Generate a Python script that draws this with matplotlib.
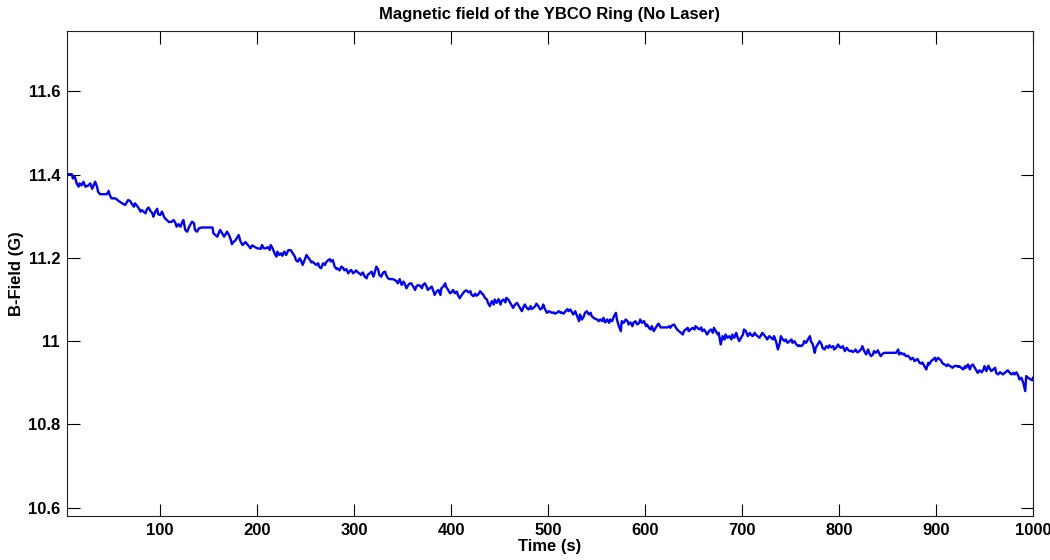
import numpy as np
import matplotlib
matplotlib.use("Agg")
import matplotlib.pyplot as plt
from matplotlib.ticker import FormatStrFormatter, MultipleLocator

# readings taken off the trace, one block per stretch of the run
t_seg1 = [4, 9, 10, 12, 14, 16, 17, 19, 21, 23,
          26, 28, 30, 33, 35, 36, 38, 45, 47, 48,
          50, 54, 57, 61, 64, 66, 67, 69, 71, 73,
          74, 76, 78, 80, 81, 83, 85, 86, 88, 90,
          92, 93, 95, 97, 98, 100, 102, 104, 105, 107,
          109, 112, 114, 116, 117, 119, 121, 123, 124, 126,
          128, 130, 131, 133, 135, 136, 138, 140, 143, 154,
          155, 157, 159, 161, 162, 164, 166, 167, 169, 171,
          173, 174, 176, 178, 180, 181, 183, 185, 188, 192,
          193, 195, 200, 204, 205, 207]
b_seg1 = [11.401, 11.401, 11.391, 11.395, 11.379, 11.371, 11.379, 11.374, 11.383, 11.371,
          11.374, 11.379, 11.366, 11.383, 11.371, 11.359, 11.353, 11.353, 11.361, 11.351,
          11.343, 11.343, 11.337, 11.331, 11.327, 11.335, 11.339, 11.337, 11.329, 11.323,
          11.331, 11.326, 11.319, 11.311, 11.315, 11.311, 11.307, 11.315, 11.321, 11.313,
          11.307, 11.299, 11.311, 11.318, 11.305, 11.303, 11.311, 11.299, 11.295, 11.291,
          11.286, 11.287, 11.291, 11.283, 11.275, 11.281, 11.275, 11.287, 11.291, 11.267,
          11.263, 11.275, 11.279, 11.287, 11.283, 11.267, 11.263, 11.271, 11.273, 11.273,
          11.259, 11.255, 11.251, 11.263, 11.267, 11.259, 11.251, 11.255, 11.263, 11.255,
          11.243, 11.233, 11.239, 11.243, 11.251, 11.255, 11.239, 11.231, 11.238, 11.227,
          11.223, 11.230, 11.223, 11.222, 11.231, 11.223]

t_seg2 = [209, 211, 213, 214, 216, 218, 220, 221, 223, 225,
          226, 228, 230, 232, 233, 235, 237, 239, 240, 242,
          244, 245, 247, 249, 251, 252, 254, 256, 257, 259,
          261, 263, 264, 266, 268, 270, 271, 273, 275, 276,
          278, 280, 282, 283, 285, 287, 289, 290, 292, 294,
          295, 297, 299, 301, 302, 304, 306, 307, 309, 311,
          313, 314, 316, 318, 320, 321, 323, 325, 326, 328,
          330, 332, 333, 335, 337, 340, 342, 344, 345, 347,
          349, 351, 352, 354, 356, 357, 359, 361, 363, 364,
          366, 368, 370, 371, 373, 375, 376, 378, 380, 382,
          383, 385, 387, 389, 390, 392, 394, 395, 397, 399,
          401, 402, 404, 406, 407, 409, 411]
b_seg2 = [11.223, 11.226, 11.219, 11.231, 11.223, 11.211, 11.203, 11.215, 11.207, 11.211,
          11.205, 11.215, 11.207, 11.218, 11.219, 11.218, 11.210, 11.203, 11.195, 11.191,
          11.199, 11.195, 11.183, 11.195, 11.207, 11.203, 11.197, 11.189, 11.191, 11.187,
          11.183, 11.187, 11.179, 11.175, 11.187, 11.183, 11.189, 11.194, 11.197, 11.191,
          11.195, 11.179, 11.173, 11.175, 11.170, 11.179, 11.175, 11.170, 11.173, 11.163,
          11.167, 11.171, 11.163, 11.167, 11.170, 11.165, 11.162, 11.159, 11.165, 11.155,
          11.151, 11.159, 11.163, 11.167, 11.155, 11.163, 11.179, 11.171, 11.159, 11.155,
          11.165, 11.167, 11.159, 11.151, 11.149, 11.149, 11.147, 11.143, 11.139, 11.149,
          11.135, 11.143, 11.139, 11.127, 11.135, 11.138, 11.139, 11.131, 11.123, 11.131,
          11.135, 11.133, 11.127, 11.135, 11.139, 11.130, 11.123, 11.127, 11.131, 11.119,
          11.111, 11.119, 11.123, 11.111, 11.127, 11.131, 11.139, 11.130, 11.123, 11.115,
          11.119, 11.123, 11.115, 11.119, 11.111, 11.103, 11.111]

t_seg3 = [414, 416, 418, 420, 421, 423, 425, 426, 428, 430,
          432, 433, 435, 437, 438, 440, 442, 444, 445, 447,
          449, 451, 452, 454, 456, 457, 459, 461, 463, 464,
          466, 468, 470, 471, 473, 475, 476, 478, 480, 482,
          483, 485, 487, 488, 490, 492, 494, 495, 497, 499,
          501, 504, 506, 507, 509, 511, 513, 514, 516, 518,
          520, 521, 523, 525, 526, 528, 530, 532, 533, 535,
          537, 538, 540, 542, 544, 545, 547, 549, 551, 552,
          554, 556, 557, 559, 561, 563, 564, 566, 568, 570,
          571, 573, 575, 576, 578, 580, 582, 583, 585, 587,
          588, 590, 592, 594, 595, 597, 599, 601, 602, 604,
          606, 607, 609, 611, 613, 614]
b_seg3 = [11.120, 11.122, 11.117, 11.120, 11.112, 11.108, 11.114, 11.109, 11.112, 11.120,
          11.114, 11.112, 11.104, 11.100, 11.092, 11.084, 11.096, 11.088, 11.100, 11.092,
          11.101, 11.088, 11.096, 11.100, 11.093, 11.104, 11.100, 11.092, 11.084, 11.080,
          11.088, 11.092, 11.084, 11.080, 11.072, 11.084, 11.088, 11.080, 11.076, 11.084,
          11.077, 11.080, 11.085, 11.090, 11.084, 11.076, 11.080, 11.088, 11.076, 11.068,
          11.072, 11.068, 11.069, 11.066, 11.068, 11.072, 11.068, 11.069, 11.066, 11.072,
          11.077, 11.072, 11.076, 11.068, 11.064, 11.072, 11.060, 11.048, 11.064, 11.052,
          11.060, 11.068, 11.072, 11.064, 11.068, 11.060, 11.056, 11.053, 11.052, 11.048,
          11.052, 11.048, 11.056, 11.045, 11.052, 11.044, 11.052, 11.048, 11.060, 11.068,
          11.052, 11.036, 11.024, 11.048, 11.044, 11.052, 11.048, 11.040, 11.045, 11.036,
          11.044, 11.048, 11.040, 11.044, 11.052, 11.044, 11.048, 11.036, 11.040, 11.032,
          11.028, 11.036, 11.024, 11.032, 11.040, 11.042]

t_seg4 = [616, 620, 623, 625, 626, 628, 630, 632, 633, 635,
          637, 639, 640, 642, 644, 645, 647, 649, 651, 652,
          654, 656, 658, 659, 661, 663, 664, 666, 668, 670,
          671, 673, 675, 676, 678, 680, 682, 683, 685, 687,
          689, 690, 692, 694, 695, 697, 699, 701, 702, 704,
          706, 708, 709, 711, 713, 714, 716, 718, 720, 721,
          723, 725, 726, 728, 730, 732, 733, 735, 737, 739,
          740, 742, 744, 745, 747, 749, 751, 752, 754, 756,
          758, 759, 761, 763, 764, 766, 768, 770, 771, 773,
          775, 776, 778, 780, 782, 783, 785, 787, 789, 790,
          792, 794, 795, 797, 799, 801, 802, 804, 806, 808,
          809, 811, 813, 814, 816]
b_seg4 = [11.033, 11.033, 11.033, 11.036, 11.032, 11.038, 11.040, 11.032, 11.028, 11.024,
          11.020, 11.016, 11.024, 11.028, 11.032, 11.024, 11.028, 11.032, 11.028, 11.036,
          11.032, 11.028, 11.033, 11.024, 11.028, 11.020, 11.016, 11.024, 11.028, 11.020,
          11.032, 11.024, 11.016, 11.020, 10.992, 11.012, 11.004, 11.016, 11.008, 11.012,
          11.004, 11.016, 11.008, 11.020, 11.012, 11.000, 11.008, 11.016, 11.028, 11.024,
          11.012, 11.020, 11.016, 11.012, 11.020, 11.016, 11.012, 11.008, 11.016, 11.020,
          11.014, 11.008, 11.004, 11.012, 11.008, 11.004, 11.012, 11.000, 10.980, 10.996,
          11.012, 11.004, 11.000, 11.004, 10.996, 11.000, 11.004, 10.996, 11.000, 10.992,
          10.988, 10.990, 10.988, 10.992, 11.000, 10.996, 11.004, 11.012, 11.000, 10.992,
          10.972, 10.984, 10.992, 11.000, 10.992, 10.984, 10.980, 10.988, 10.984, 10.990,
          10.985, 10.988, 10.980, 10.984, 10.992, 10.985, 10.984, 10.988, 10.976, 10.984,
          10.980, 10.976, 10.977, 10.974, 10.976]

t_seg5 = [817, 819, 821, 823, 824, 826, 828, 830, 831, 833,
          835, 836, 838, 840, 842, 843, 845, 847, 859, 861,
          862, 864, 866, 867, 869, 871, 873, 874, 876, 878,
          880, 881, 883, 885, 886, 888, 890, 892, 893, 895,
          897, 899, 900, 902, 904, 905, 907, 909, 911, 912,
          914, 916, 917, 919, 921, 923, 924, 926, 928, 930,
          931, 933, 935, 936, 938, 940, 942, 943, 945, 947,
          949, 950, 952, 954, 955, 957, 959, 961, 962, 964,
          966, 967, 969, 971, 973, 974, 976, 978, 980, 981,
          983, 985, 986, 988, 990, 992, 993, 995, 997, 999,
          1000]
b_seg5 = [10.980, 10.973, 10.976, 10.981, 10.988, 10.976, 10.968, 10.980, 10.972, 10.964,
          10.968, 10.976, 10.972, 10.978, 10.968, 10.964, 10.970, 10.972, 10.972, 10.980,
          10.968, 10.972, 10.968, 10.970, 10.964, 10.965, 10.960, 10.956, 10.960, 10.952,
          10.956, 10.957, 10.948, 10.946, 10.949, 10.940, 10.932, 10.948, 10.944, 10.952,
          10.956, 10.960, 10.952, 10.960, 10.956, 10.954, 10.946, 10.944, 10.940, 10.944,
          10.941, 10.938, 10.936, 10.940, 10.941, 10.938, 10.940, 10.936, 10.932, 10.940,
          10.936, 10.944, 10.932, 10.940, 10.944, 10.936, 10.928, 10.924, 10.930, 10.925,
          10.932, 10.940, 10.928, 10.941, 10.936, 10.928, 10.932, 10.936, 10.924, 10.920,
          10.925, 10.924, 10.920, 10.924, 10.928, 10.930, 10.924, 10.920, 10.924, 10.920,
          10.925, 10.916, 10.908, 10.912, 10.900, 10.880, 10.916, 10.912, 10.909, 10.906,
          10.912]

time_s = np.concatenate([t_seg1, t_seg2, t_seg3, t_seg4, t_seg5])
field_g = np.concatenate([b_seg1, b_seg2, b_seg3, b_seg4, b_seg5])

plt.rcParams['font.family'] = ['Liberation Sans', 'DejaVu Sans']
plt.rcParams['font.weight'] = 'bold'

fig = plt.figure(figsize=(10.5, 5.6), dpi=100, facecolor='white')
ax = fig.add_axes([0.0638, 0.0786, 0.920, 0.866])

ax.plot(time_s, field_g, color=(0, 0, 1), lw=1.7)

ax.set_xlim(time_s.min(), time_s.max())
ax.set_ylim(10.58, 11.745)
ax.xaxis.set_major_locator(MultipleLocator(100))
ax.yaxis.set_major_locator(MultipleLocator(0.2))
ax.yaxis.set_major_formatter(FormatStrFormatter('%g'))

ax.tick_params(direction='in', length=9, width=0.8, top=True, right=True,
               labelsize=12, pad=5)
for lab in ax.get_xticklabels() + ax.get_yticklabels():
    lab.set_fontweight('bold')
for sp in ax.spines.values():
    sp.set_linewidth(0.8)
    sp.set_color('#222222')

ax.set_title('Magnetic field of the YBCO Ring (No Laser)', fontsize=12,
             fontweight='bold', pad=9)
ax.set_xlabel('Time (s)', fontsize=12, fontweight='bold', labelpad=1)
ax.set_ylabel('B-Field (G)', fontsize=12, fontweight='bold')
ax.yaxis.set_label_coords(-0.045, 0.5)

fig.savefig('out.png', dpi=100, facecolor='white')
